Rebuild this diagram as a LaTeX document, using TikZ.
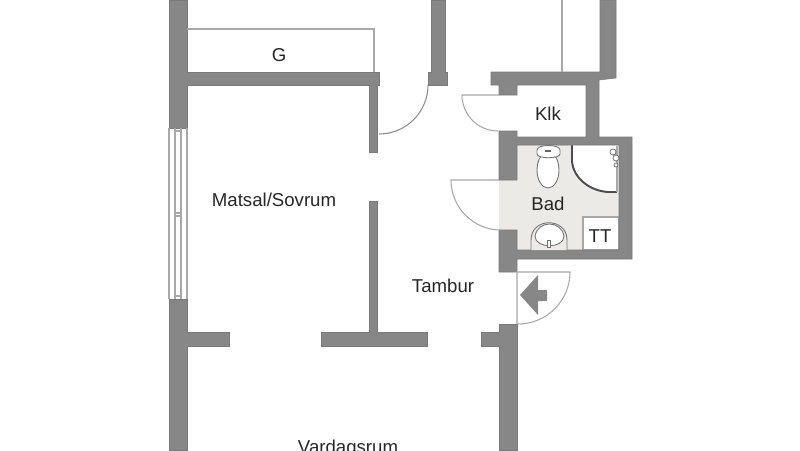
\documentclass[tikz,border=0pt]{standalone}
\usepackage{fontspec}
\setmainfont{Liberation Sans}
\definecolor{wallgray}{HTML}{878787}
\definecolor{linegray}{HTML}{A8A8A8}
\definecolor{floorgray}{HTML}{ECEAE7}
\tikzset{
  wall/.style={fill=wallgray,draw=wallgray!90!black,line width=.3pt},
  thinline/.style={draw=linegray,line width=.6pt},
  fixture/.style={draw=black!55,line width=.5pt,fill=white},
  roomlabel/.style={font=\fontsize{10.6}{12}\selectfont,text=black!85,inner sep=0pt}
}
\begin{document}
\begin{tikzpicture}[x=.02cm,y=-.02cm]
        \useasboundingbox (0,0) rectangle (800,450);
        % floor of the bathroom
        \fill[floorgray] (499,180) rectangle (619,230);
        \fill[floorgray] (517,145) rectangle (619,250);
        % shower and toilet box
        \fill[white] (572,145) -- (572,161) .. controls (573,178) and (590,191) .. (608,192) -- (619,192) -- (619,145) -- cycle;
        \draw[black!70,line width=1.1pt] (572,145) -- (572,161) .. controls (573,178) and (590,191) .. (608,192) -- (617,192);
        \draw[thinline] (617,146) -- (617,192);
        \draw[thinline,fill=white] (583,217) rectangle (619,250);
        % walls
        \draw[wall] (169,0) -- (187,0) -- (187,72) -- (379,72) -- (379,85) -- (377,85) -- (377,152) -- (369,152) -- (369,85) -- (187,85) -- (187,128) -- (169,128) -- cycle;
        \draw[wall] (169,299) -- (187,299) -- (187,332) -- (229,332) -- (229,346) -- (187,346) -- (187,450) -- (169,450) -- cycle;
        \draw[wall] (431,0) -- (445,0) -- (445,72) -- (447,72) -- (447,85) -- (428,85) -- (428,72) -- (431,72) -- cycle;
        \draw[wall] (369,201) -- (377,201) -- (377,332) -- (427,332) -- (427,346) -- (321,346) -- (321,332) -- (369,332) -- cycle;
        \draw[wall] (481,332) -- (499,332) -- (499,324) -- (517,324) -- (517,450) -- (499,450) -- (499,346) -- (481,346) -- cycle;
        \draw[wall] (491,72) -- (600,72) -- (600,0) -- (616,0) -- (616,78) -- (599,80) -- (599,137) -- (632,137) -- (632,259) -- (517,259) -- (517,272) -- (499,272) -- (499,230) -- (517,230) -- (517,250) -- (619,250) -- (619,145) -- (517,145) -- (517,180) -- (499,180) -- (499,131) -- (517,131) -- (517,137) -- (586,137) -- (586,85) -- (517,85) -- (517,95) -- (499,95) -- (499,85) -- (491,85) -- cycle;
        % window
        \draw[thinline] (169,128) -- (169,299) (187,128) -- (187,299);
        \draw[thinline] (175,128) -- (175,299) (181,128) -- (181,299);
        \draw[thinline] (175,131) -- (181,131) (175,213) -- (181,213) (175,216) -- (181,216) (175,296) -- (181,296);
        % thin lines
        \draw[thinline] (187,29) -- (374,29) -- (374,72);
        \draw[thinline] (562,0) -- (562,72);
        % doors
        \draw[thinline,black!45] (379,134) arc [start angle=90, end angle=0, radius=49];
        \draw[thinline] (499,95) -- (462,95) arc [start angle=180, end angle=90, radius=36];
        \draw[thinline] (499,180) -- (451,180) arc [start angle=180, end angle=90, radius=50];
        \draw[thinline] (517,324) -- (517,272) -- (570,272) arc [start angle=0, end angle=90, radius=52];
        % entrance arrow
        \fill[wallgray] (520,295) -- (538,275) -- (538,290) -- (547,290) -- (547,301) -- (538,301) -- (538,315) -- cycle;
        % toilet
        \draw[fixture] (548,170) ellipse [x radius=11, y radius=18];
        \draw[fixture] (537,150) .. controls (537,144) and (560,144) .. (560,150) -- (560,154) .. controls (560,159) and (537,159) .. (537,154) -- cycle;
        \fill[black!60] (545,150) rectangle (551,152);
        % sink
        \draw[fixture,fill=floorgray] (531,250) -- (531,240) .. controls (531,217) and (567,217) .. (567,240) -- (567,250);
        \draw[fixture] (535,236) .. controls (538,220) and (561,220) .. (564,236) .. controls (564,249) and (535,249) .. (535,236) -- cycle;
        \draw[black!55,line width=.4pt,fill=white] (547,240) rectangle (550,247);
        % shower head
        \draw[black!60,line width=.4pt,fill=white] (613,152) circle [radius=3] (616,158) circle [radius=3] (616,165) circle [radius=2];
        % labels
        \node[roomlabel] (gLabel) at (279,55) {G};
        \node[roomlabel] (klkLabel) at (548,114) {Klk};
        \node[roomlabel] (badLabel) at (548,204) {Bad};
        \node[roomlabel] (ttLabel) at (600,236) {TT};
        \node[roomlabel] (tamburLabel) at (443,286) {Tambur};
        \node[roomlabel] (matsalLabel) at (274,200) {Matsal/Sovrum};
        \node[roomlabel] (vardagLabel) at (348,449) {Vardagsrum};
        \end{tikzpicture}
\end{document}
